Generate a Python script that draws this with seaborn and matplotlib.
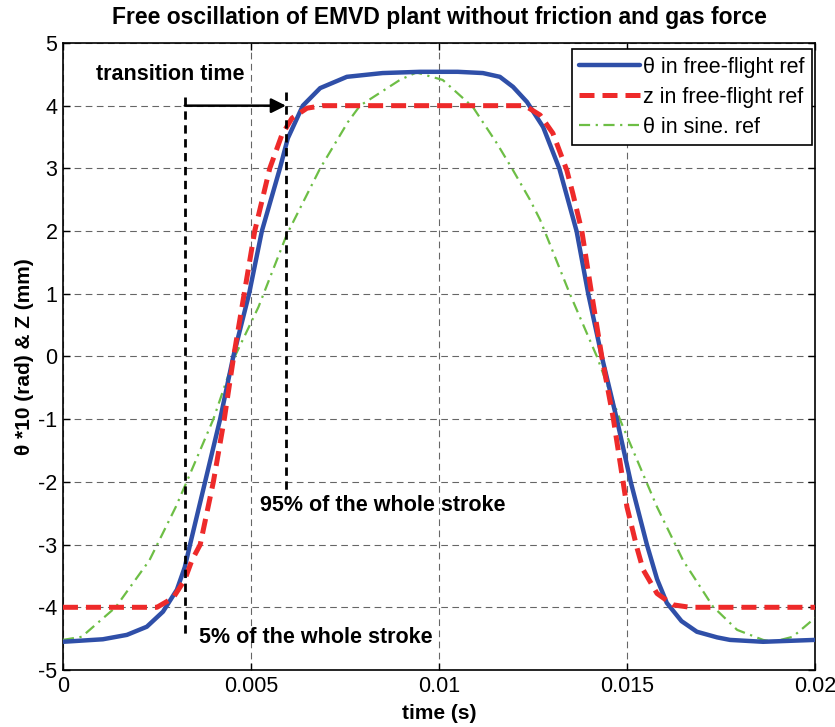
import matplotlib
matplotlib.use("Agg")
import matplotlib.pyplot as plt
import seaborn as sns
import pandas as pd

# ---------------- data ----------------
t_theta_ff = [0, 0.00106, 0.0017, 0.00223, 0.00266, 0.00303, 0.00324, 0.00338, 0.00378,
              0.00418, 0.00453, 0.00495, 0.00529, 0.00577, 0.00598, 0.00638, 0.00684,
              0.00755, 0.0085, 0.0095, 0.0105, 0.01117, 0.01162, 0.01197, 0.01234,
              0.01277, 0.0132, 0.01366, 0.01397, 0.01433, 0.01473, 0.0151, 0.01553,
              0.0158, 0.01606, 0.01645, 0.01686, 0.0174, 0.01774, 0.01862, 0.02]
y_theta_ff = [-4.55, -4.51, -4.44, -4.31, -4.07, -3.72, -3.36, -3.0, -2.0,
              -1.0, 0.0, 1.0, 2.0, 3.0, 3.48, 4.0, 4.28,
              4.46, 4.52, 4.54, 4.54, 4.52, 4.46, 4.3, 4.06,
              3.66, 3.0, 2.0, 1.0, 0.0, -1.0, -2.0, -3.0,
              -3.55, -3.93, -4.22, -4.39, -4.48, -4.52, -4.55, -4.52]

t_z_ff = [0, 0.0025, 0.00293, 0.00324, 0.00343, 0.00365, 0.004, 0.00429, 0.00454,
          0.00482, 0.0051, 0.0055, 0.00582, 0.00609, 0.00649, 0.0069, 0.0122,
          0.01234, 0.01269, 0.01303, 0.0134, 0.01356, 0.0138, 0.01406, 0.01433,
          0.01464, 0.015, 0.01527, 0.01543, 0.0158, 0.01622, 0.01668, 0.02]
y_z_ff = [-4.0, -4.0, -3.85, -3.56, -3.25, -3.0, -2.0, -1.0, 0.0,
          1.0, 2.0, 3.0, 3.53, 3.8, 3.96, 4.0, 4.0,
          3.98, 3.85, 3.56, 2.97, 2.6, 2.0, 1.0, 0.0,
          -1.0, -2.4, -3.06, -3.4, -3.78, -3.96, -4.0, -4.0]

t_theta_sine = [0, 0.0005, 0.0014, 0.0023, 0.003, 0.00329, 0.004, 0.00457, 0.0052,
                0.00595, 0.00684, 0.00758, 0.0079, 0.00896, 0.0094, 0.0101, 0.0109,
                0.01154, 0.01197, 0.01242, 0.01269, 0.01348, 0.0142, 0.01481, 0.01553,
                0.0158, 0.01649, 0.01729, 0.01793, 0.01862, 0.01889, 0.01941, 0.02]
y_theta_sine = [-4.52, -4.47, -4.0, -3.25, -2.4, -2.0, -1.0, 0.0, 0.79,
                1.94, 3.0, 3.74, 4.0, 4.41, 4.53, 4.41, 3.98,
                3.4, 2.97, 2.5, 2.18, 1.0, 0.0, -1.0, -2.02,
                -2.4, -3.25, -3.99, -4.36, -4.52, -4.55, -4.47, -4.17]

labels = ["θ in free-flight ref", "z in free-flight ref", "θ in sine. ref"]
x_ticks = [0, 0.005, 0.01, 0.015, 0.02]
x_tick_labels = ["0", "0.005", "0.01", "0.015", "0.02"]
y_ticks = list(range(-5, 6))

# annotation anchors (data coords)
t_5pct, t_95pct = 0.00324, 0.00593
v5_range = (4.14, -4.47)
v95_range = (4.22, -2.13)
arrow_y = 4.0

# ---------------- styling ----------------
sns.set_style("ticks")
plt.rcParams["font.family"] = ["Liberation Sans", "DejaVu Sans"]
plt.rcParams["axes.unicode_minus"] = False
plt.rcParams["text.color"] = "black"
plt.rcParams["axes.labelcolor"] = "black"

fig = plt.figure(figsize=(8.35, 7.27), dpi=100)
ax = fig.add_axes([0.0754, 0.0784, 0.9006, 0.8625])

df1 = pd.DataFrame({"t": t_theta_ff, "y": y_theta_ff})
df2 = pd.DataFrame({"t": t_z_ff, "y": y_z_ff})
df3 = pd.DataFrame({"t": t_theta_sine, "y": y_theta_sine})

sns.lineplot(data=df1, x="t", y="y", ax=ax, color="#2F4FA8", lw=3.2,
             label=labels[0], sort=False, zorder=4)
sns.lineplot(data=df2, x="t", y="y", ax=ax, color="#EE2A2A", lw=3.6,
             label=labels[1], sort=False, zorder=5)
ax.lines[-1].set_linestyle((0, (3.0, 1.6)))
sns.lineplot(data=df3, x="t", y="y", ax=ax, color="#6DBE45", lw=1.6,
             label=labels[2], sort=False, zorder=3)
ax.lines[-1].set_linestyle((0, (5, 2.5, 1, 2.5)))

ax.set_xlim(0, 0.02)
ax.set_ylim(-5, 5)
ax.set_xticks(x_ticks)
ax.set_xticklabels(x_tick_labels)
ax.set_yticks(y_ticks)
ax.grid(True, color="#333333", ls=(0, (6, 4)), lw=0.8, alpha=0.75)
ax.tick_params(direction="in", length=5, labelsize=15.5, top=True, right=True,
               colors="black", width=1, pad=4)
for s in ax.spines.values():
    s.set_color("black")
    s.set_linewidth(1.2)

ax.set_title("Free oscillation of EMVD plant without friction and gas force",
             fontsize=16.5, fontweight="bold", pad=14)
ax.set_xlabel("time (s)", fontsize=15, fontweight="bold", labelpad=5)
ax.set_ylabel("θ *10 (rad) & Z (mm)", fontsize=15, fontweight="bold", labelpad=3)

# annotations
ax.plot([t_5pct, t_5pct], v5_range, color="black", lw=2.0, ls=(0, (3, 2)), zorder=6)
ax.plot([t_95pct, t_95pct], v95_range, color="black", lw=2.0, ls=(0, (3, 2)), zorder=6)
ax.annotate("", xy=(t_95pct, arrow_y), xytext=(t_5pct, arrow_y),
            arrowprops=dict(arrowstyle="-|>", color="black", lw=1.8,
                            mutation_scale=22, shrinkA=0, shrinkB=0), zorder=7)
ax.text(0.00087, 4.5, "transition time", fontsize=15.5, fontweight="bold",
        va="center", ha="left")
ax.text(0.00523, -2.37, "95% of the whole stroke", fontsize=15.5, fontweight="bold",
        va="center", ha="left")
ax.text(0.00363, -4.48, "5% of the whole stroke", fontsize=15.5, fontweight="bold",
        va="center", ha="left")

leg = ax.legend(loc="upper right", bbox_to_anchor=(0.996, 0.99), fontsize=15.5,
                frameon=True, fancybox=False, edgecolor="black", framealpha=1,
                handlelength=2.8, borderaxespad=0, labelspacing=0.42,
                handletextpad=0.15, borderpad=0.35)
leg.get_frame().set_linewidth(1.2)

fig.savefig("out.png", dpi=100)
